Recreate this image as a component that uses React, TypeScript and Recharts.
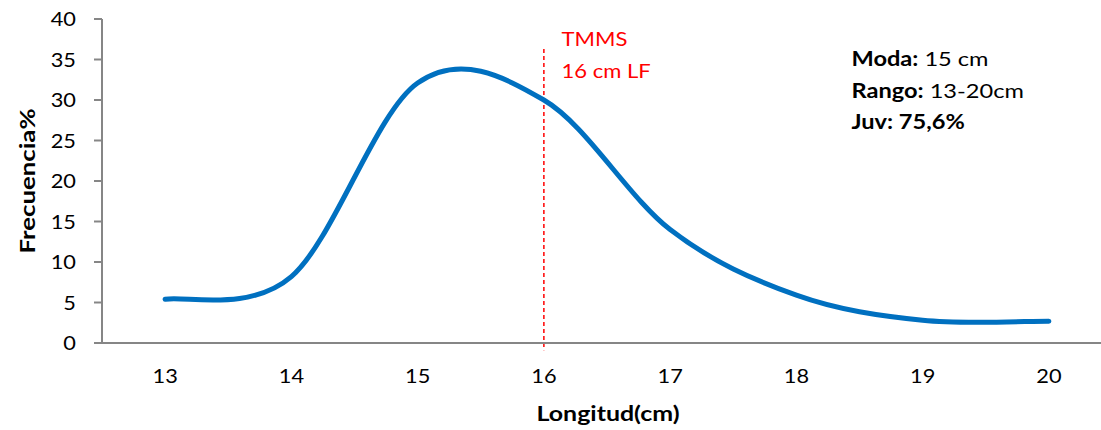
import React from 'react';
import { LineChart, Line, XAxis, YAxis, ReferenceLine } from 'recharts';

const lengths = [13, 14, 15, 16, 17, 18, 19, 20];
const frequencies = [5.4, 8.2, 32.1, 30.0, 14.0, 5.9, 2.8, 2.7];
const yTicks = [0, 5, 10, 15, 20, 25, 30, 35, 40];
const xTicks = [13, 14, 15, 16, 17, 18, 19, 20];
const tmmsLength = 16;
const tmmsLines = ['TMMS', '16 cm LF'];
const summaryRows = [
  { bold: 'Moda:', normal: ' 15 cm' },
  { bold: 'Rango:', normal: ' 13-20cm' },
  { bold: 'Juv: 75,6%', normal: '' },
];
const xTitle = 'Longitud(cm)';
const yTitle = 'Frecuencia%';

const data = lengths.map((x, i) => ({ x, y: frequencies[i] }));

const FONT = 'Lato, "Open Sans", sans-serif';
const TICK_FS = 18.6;
const TICK_SX = 1.17;

// Excel-like smoothed line (Catmull-Rom style Bezier, k = 1/6)
const excelCurve = (context: any) => {
  const k = 1 / 6;
  const pts: [number, number][] = [];
  return {
    areaStart() {},
    areaEnd() {},
    lineStart() {
      pts.length = 0;
    },
    point(x: number, y: number) {
      pts.push([+x, +y]);
    },
    lineEnd() {
      const n = pts.length;
      if (n === 0) return;
      context.moveTo(pts[0][0], pts[0][1]);
      if (n === 1) return;
      for (let i = 0; i < n - 1; i++) {
        const p0 = pts[i - 1] || pts[i];
        const p1 = pts[i];
        const p2 = pts[i + 1];
        const p3 = pts[i + 2] || pts[i + 1];
        let c1x, c1y, c2x, c2y;
        if (i === 0) {
          c1x = p1[0] + k * (p2[0] - p1[0]);
          c1y = p1[1] + k * (p2[1] - p1[1]);
        } else {
          c1x = p1[0] + k * (p2[0] - p0[0]);
          c1y = p1[1] + k * (p2[1] - p0[1]);
        }
        if (i === n - 2) {
          c2x = p2[0] - k * (p2[0] - p1[0]);
          c2y = p2[1] - k * (p2[1] - p1[1]);
        } else {
          c2x = p2[0] - k * (p3[0] - p1[0]);
          c2y = p2[1] - k * (p3[1] - p1[1]);
        }
        context.bezierCurveTo(c1x, c1y, c2x, c2y, p2[0], p2[1]);
      }
    },
  };
};

type STProps = {
  x: number;
  y: number;
  sx: number;
  rotate?: number;
  anchor?: 'start' | 'middle' | 'end';
  fontSize: number;
  fill?: string;
  bold?: boolean;
  children: React.ReactNode;
};

const StretchText = ({ x, y, sx, rotate = 0, anchor = 'start', fontSize, fill = '#000', bold, children }: STProps) => (
  <g transform={`translate(${x} ${y}) rotate(${rotate}) scale(${sx} 1)`}>
    <text
      x={0}
      y={0}
      textAnchor={anchor}
      fontFamily={FONT}
      fontSize={fontSize}
      fontWeight={bold ? 'bold' : 'normal'}
      fill={fill}
    >
      {children}
    </text>
  </g>
);

const XTick = (props: any) => (
  <StretchText x={props.x} y={props.y + 13.2} sx={TICK_SX} anchor="middle" fontSize={TICK_FS}>
    {props.payload.value}
  </StretchText>
);

const YTick = (props: any) => (
  <StretchText x={props.x} y={props.y + 7} sx={TICK_SX} anchor="end" fontSize={TICK_FS}>
    {props.payload.value}
  </StretchText>
);

export default function App() {
  return (
    <div
      style={{
        position: 'absolute',
        left: 0,
        top: 0,
        width: 1101,
        height: 430,
        overflow: 'hidden',
        background: '#fff',
      }}
    >
      <LineChart
        width={1112}
        height={430}
        data={data}
        margin={{ top: 19, right: 0, bottom: 27, left: 0 }}
        style={{ fontFamily: FONT }}
      >
        <XAxis
          dataKey="x"
          type="number"
          domain={[12.5, 20.5]}
          ticks={xTicks}
          allowDataOverflow
          height={60}
          tickLine={false}
          tickSize={8}
          tickMargin={19}
          axisLine={{ stroke: '#868686', strokeWidth: 2 }}
          tick={XTick}
        />
        <YAxis
          type="number"
          domain={[0, 40]}
          ticks={yTicks}
          width={102}
          tickSize={8}
          tickMargin={18}
          tickLine={{ stroke: '#868686', strokeWidth: 2 }}
          axisLine={{ stroke: '#868686', strokeWidth: 2 }}
          tick={YTick}
        />
        <ReferenceLine
          segment={[
            { x: tmmsLength, y: 36.3 },
            { x: tmmsLength, y: -0.9 },
          ]}
          ifOverflow="visible"
          stroke="#FF0000"
          strokeWidth={1.5}
          strokeDasharray="4 3"
        />
        <Line
          dataKey="y"
          type={excelCurve as any}
          stroke="#0070C0"
          strokeWidth={5}
          strokeLinecap="round"
          dot={false}
          activeDot={false}
          isAnimationActive={false}
        />
        <StretchText x={35} y={181} rotate={-90} sx={1.2} anchor="middle" fontSize={21.5} bold>
          {yTitle}
        </StretchText>
        <StretchText x={608} y={420.5} sx={1.16} anchor="middle" fontSize={21.5} bold>
          {xTitle}
        </StretchText>
        {tmmsLines.map((t, i) => (
          <StretchText key={t} x={561.5} y={46 + i * 32} sx={1.13} fontSize={19.5} fill="#FF0000">
            {t}
          </StretchText>
        ))}
        {summaryRows.map((r, i) => (
          <g key={r.bold} transform={`translate(851.5 ${66 + i * 31.5}) scale(1.18 1)`}>
            <text x={0} y={0} fontFamily={FONT} fontSize={20} fill="#000">
              <tspan fontWeight="bold">{r.bold}</tspan>
              {r.normal ? <tspan>{r.normal}</tspan> : null}
            </text>
          </g>
        ))}
      </LineChart>
    </div>
  );
}
